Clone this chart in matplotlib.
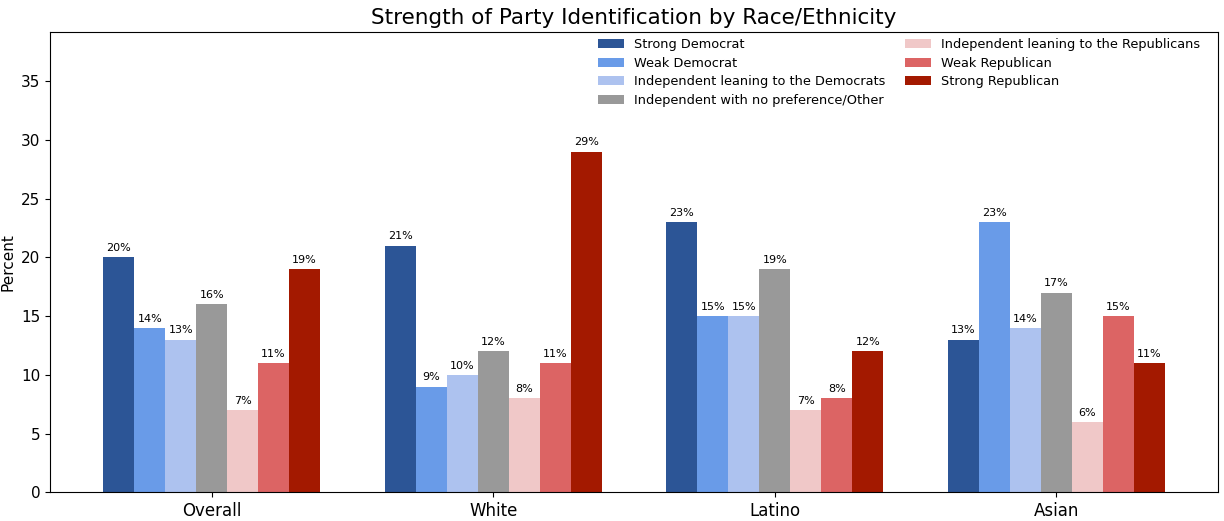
import numpy as np
import matplotlib.pyplot as plt

groups = ["Overall", "White", "Latino", "Asian"]
categories = [
    "Strong Democrat", "Weak Democrat", "Independent leaning to the Democrats",
    "Independent with no preference/Other", "Independent leaning to the Republicans",
    "Weak Republican", "Strong Republican",
]
strong_dem = [20, 21, 23, 13]
weak_dem = [14, 9, 15, 23]
lean_dem = [13, 10, 15, 14]
no_pref = [16, 12, 19, 17]
lean_rep = [7, 8, 7, 6]
weak_rep = [11, 11, 8, 15]
strong_rep = [19, 29, 12, 11]
series = [strong_dem, weak_dem, lean_dem, no_pref, lean_rep, weak_rep, strong_rep]
colors = ["#2c5596", "#699be8", "#adc2ef", "#999999", "#f0c8c8", "#dc6464", "#a31900"]

fig, ax = plt.subplots(figsize=(12.24, 5.21), dpi=100)
x = np.arange(len(groups))
width = 0.11
for i, (vals, name, c) in enumerate(zip(series, categories, colors)):
    bars = ax.bar(x + (i - 3) * width, vals, width, label=name, color=c)
    ax.bar_label(bars, labels=[f"{v}%" for v in vals], padding=3, fontsize=8)

ax.set_xticks(x)
ax.set_xticklabels(groups, fontsize=12)
ax.tick_params(axis="y", labelsize=11)
ax.set_ylabel("Percent", fontsize=11)
ax.set_ylim(0, max(strong_rep) * 1.35)
ax.set_title("Strength of Party Identification by Race/Ethnicity", fontsize=15.5)
ax.legend(ncol=2, loc="upper right", frameon=False, fontsize=9.3,
          bbox_to_anchor=(0.995, 1.012), columnspacing=1.5, labelspacing=0.42)
plt.subplots_adjust(left=0.041, right=0.995, top=0.938, bottom=0.055)
plt.savefig("out.png")
